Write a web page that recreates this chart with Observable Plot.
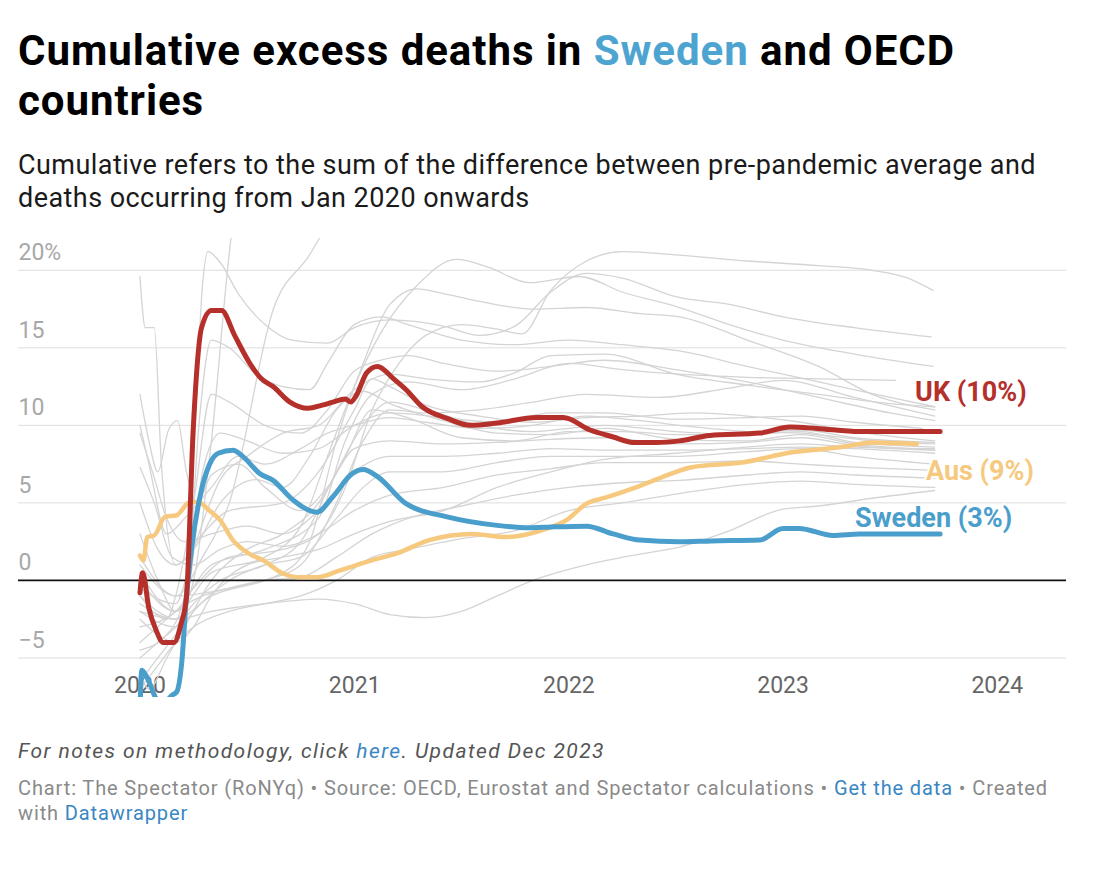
<!DOCTYPE html>
<html>
<head>
<meta charset="utf-8">
<script src="https://cdn.jsdelivr.net/npm/d3@7"></script>
<script src="https://cdn.jsdelivr.net/npm/@observablehq/plot@0.6"></script>
<style>
  html, body { margin: 0; padding: 0; background: #fff; }
  body { font-family: Roboto, "Noto Sans", sans-serif; width: 1096px; height: 872px; position: relative; overflow: hidden; }
  .txt { position: absolute; left: 18px; margin: 0; white-space: nowrap; }
  .title { top: 25.6px; font-size: 42px; line-height: 50px; font-weight: 700; color: #000; }
  .title .sw { color: #4ea4d0; }
  .subtitle { top: 149.2px; font-size: 27px; line-height: 33px; color: #1a1a1a; }
  #chart { position: absolute; left: 0; top: 236px; }
  .notes { top: 737.1px; font-size: 21px; line-height: 28px; font-style: italic; color: #555; }
  .notes a, .credits a { color: #3a86c2; text-decoration: none; }
  .credits { top: 775.7px; font-size: 20px; line-height: 25px; color: #8a8a8a; }
</style>
</head>
<body>
<div class="txt title" id="title"><span class="l1">Cumulative excess deaths in <span class="sw">Sweden</span> and OECD</span><br>countries</div>
<div class="txt subtitle" id="subtitle"><span class="l1">Cumulative refers to the sum of the difference between pre-pandemic average and</span><br>deaths occurring from Jan 2020 onwards</div>
<div id="chart"></div>
<div class="txt notes" id="notes"><span class="l1">For notes on methodology, click <a>here</a>. Updated Dec 2023</span></div>
<div class="txt credits" id="credits"><span class="l1">Chart: The Spectator (RoNYq) • Source: OECD, Eurostat and Spectator calculations • <a>Get the data</a> • Created</span><br>with <a>Datawrapper</a></div>
<script>
// ---------- DATA (months since 1 Jan 2020, cumulative excess deaths %) ----------
const ukSeries = [[0,-0.8],[0.15,0.5],[0.5,-1.8],[0.9,-3.2],[1.3,-4.0],[1.9,-4.0],[2.3,-2.8],[2.6,-1.1],[2.98,9.7],[3.45,16.3],[4.0,17.4],[4.57,17.4],[5.3,15.8],[6.15,14.0],[6.8,13.0],[7.45,12.5],[8.4,11.5],[9.4,11.1],[10.2,11.3],[10.8,11.5],[11.5,11.7],[11.8,11.5],[12.1,11.9],[12.7,13.4],[13.3,13.8],[14.2,13.0],[14.9,12.3],[15.8,11.2],[17.2,10.45],[18.5,10.0],[20,10.15],[22.2,10.5],[23.7,10.5],[25.2,9.7],[26.5,9.25],[27.6,8.9],[28.9,8.9],[30.2,9.0],[31.9,9.35],[34.7,9.5],[36.4,9.9],[37.9,9.8],[40.3,9.6],[42.5,9.6],[44.8,9.6]];
const swedenSeries = [[0,-8.5],[0.1,-5.8],[0.37,-6.2],[0.6,-6.8],[0.9,-7.6],[1.3,-7.9],[1.8,-7.4],[2.05,-7.2],[2.33,-5.4],[2.6,-1.1],[2.9,2.15],[3.36,5.4],[3.9,7.5],[4.38,8.2],[5.2,8.4],[5.8,7.95],[6.7,6.9],[7.45,6.45],[8.56,5.2],[9.9,4.4],[10.8,5.4],[11.9,6.9],[12.5,7.15],[13.3,6.7],[14.9,4.95],[17.2,4.1],[20,3.55],[21.8,3.4],[23,3.45],[25,3.5],[26.5,3.0],[28,2.6],[30.2,2.5],[32,2.55],[34.7,2.6],[36,3.35],[36.9,3.35],[38.8,2.9],[40.3,3.0],[44.8,3.0]];
const ausSeries = [[0,1.6],[0.2,1.3],[0.4,2.8],[0.8,2.9],[1.4,4.1],[2.05,4.2],[2.8,5.05],[3.25,5.05],[3.9,4.5],[4.5,3.87],[5.2,2.6],[6.15,1.7],[6.9,1.3],[8.0,0.45],[8.95,0.2],[9.9,0.2],[11.2,0.65],[12.7,1.2],[14.5,1.8],[16.2,2.6],[18.6,3.0],[20.5,2.8],[22.4,3.2],[23.9,3.9],[25,4.95],[26.1,5.35],[28,6.1],[29.1,6.6],[30.9,7.3],[33.7,7.6],[36.5,8.26],[39.3,8.6],[41,8.9],[43.5,8.8]];

const oecd01 = [[0,1.5],[2,-1],[3.5,1.5],[5,5],[7.5,17.6],[9.5,21],[11,24],[14,30],[20,34],[30,34],[44.5,33]];
const oecd02 = [[0,-2],[2,-2.5],[3,0],[4,9],[5.2,23],[7,30],[20,40],[44.5,40]];
const oecd03 = [[0,-4.5],[1.5,-3.5],[2.5,-1],[3,8],[3.5,19],[3.8,21.2],[4.5,20.5],[5.5,18.5],[7,16.5],[8.5,15.5],[10.5,15.3],[12,16.3],[14,16.8],[17,16.4],[19,15.8],[21,16.4],[23,18.6],[25,19.8],[27,19.5],[30,18.3],[33,17.8],[36,17],[40,16.3],[44.3,15.7]];
const oecd04 = [[0,0.5],[2,-2],[4,0.5],[7,1.5],[9,3.5],[10.5,8],[12,12.5],[13.5,16],[15.5,19],[17.7,20.7],[19.5,20.2],[21.8,19.2],[24.6,19.6],[27,18.6],[30.2,17.6],[33,16.5],[36,15.5],[40,14.6],[44.4,13.8]];
const oecd05 = [[0,3],[1,0],[2,-2],[3,-0.5],[5,1.5],[8,2],[10,3],[11.5,6],[13,11],[14.5,14],[16,15.8],[18,16.5],[20,16.2],[21.4,15.9],[23,18.7],[25,20.6],[27,21.2],[30,21],[34,20.6],[38,20.3],[41,20],[43,19.5],[44.4,18.7]];
const oecd06 = [[0,-2],[2,-3],[2.7,0],[3.3,10],[4,15.5],[5,15],[6.5,13.3],[8,12.5],[9.5,12.3],[10.5,14],[12,16.5],[13.5,17],[15,16.5],[18,15.5],[21,15.2],[24,15.5],[27,15.2],[30.2,14.8],[34,13.8],[38,12.8],[42,11.8],[44.5,11.2]];
const oecd07 = [[0,1],[2,-1],[5,-0.5],[8,0.5],[9.5,2.5],[11,9],[12.5,14],[14,17.8],[15.5,18.8],[17,18.5],[19,18],[22,17.5],[25,17.6],[28,17.2],[30.2,17],[34,15.5],[38,13.8],[41,12],[44.5,11]];
const oecd08 = [[0,-3],[2,-2],[4,1],[7,2],[10,4],[11.5,9],[13,12],[15,12.8],[18,12.3],[21,13],[24,14],[27,13.6],[30.2,13.3],[34,13.1],[38,13],[42.3,12.9]];
const oecd09 = [[0,-1.5],[2,-2.5],[4,-1],[7,0],[9,1],[11,5],[12.5,9],[14,11],[16,10.8],[19,11],[22,11.5],[25,12],[29,11.8],[33,12.4],[36,12.9],[40,11.8],[44.5,10.6]];
const oecd10 = [[0,5],[1,2],[2,1],[3.5,3],[5,4.5],[8,5],[10,7],[12,11],[13,13],[14,12.5],[16,11.3],[19,10.6],[22,10.2],[25,10.5],[28,10.6],[31,10.8],[34,10.6],[37,10.2],[40,9.6],[44.5,9.0]];
const oecd11 = [[0,10],[0.5,7.5],[1.5,3],[2.5,4],[4,6],[5.5,8],[7,7.5],[9,8.5],[10.5,9.5],[12,10],[14,10.5],[16,10.2],[19,9.8],[22,10],[25,10.6],[28,10.3],[31,9.9],[34,9.6],[37,9.5],[41,9.0],[44.5,8.8]];
const oecd12 = [[0,-5],[1,-4],[2,-3],[3,-1.5],[4.5,0],[7,1],[9,2.5],[11,7],[12.5,10],[14,11.5],[16,11],[19,10],[22,9.6],[26,10],[30,9.6],[34,9.4],[37,9.6],[40,8.9],[44.5,8.6]];
const oecd13 = [[0,19.6],[0.3,16.3],[0.8,16.3],[1.2,7.5],[2,1],[3,2],[4.5,5],[6.5,6.5],[8,6],[9.5,8],[11,11],[12.5,12.2],[14,11.4],[17,10.3],[20,9.5],[23,9.4],[26,9.8],[30,9.1],[34,9],[37,9.4],[40,8.8],[44.5,8.4]];
const oecd14 = [[0,12],[0.5,9],[1,7],[1.6,9.7],[2.1,10.3],[2.6,7],[3.2,5],[4,6.8],[5.5,7.5],[7,6],[9,4.5],[10.5,6],[12,8.5],[14,9],[17,8.8],[20,8.9],[23,9.1],[26,9.2],[30,8.8],[34,8.9],[37,9.2],[40,8.7],[44.5,8.4]];
const oecd15 = [[0,9.5],[0.7,7],[1.5,4],[2.5,2.5],[4,3],[6,3.5],[8,3],[10,4.5],[12,7],[14,8],[17,8],[20,8.2],[23,8.5],[26,8.4],[30,8.4],[34,8.5],[37,8.6],[40,8.5],[44.5,8.2]];
const oecd16 = [[0,-6.5],[1,-5],[2,-3.5],[3,-2],[5,0],[7,1],[9,1.5],[11,4],[12.5,6],[14,7],[17,7],[20,7.6],[23,8],[26,8],[30,8],[34,8.3],[37,8.5],[40,8],[44.5,7.5]];
const oecd17 = [[0,7.3],[0.8,5],[1.8,1.5],[3,1],[4.5,2],[6,2.5],[8,2.2],[10,3],[12,4.5],[14,5.5],[17,6],[20,6.8],[23,7.2],[26,7.6],[30,7.6],[34,7.7],[37,7.5],[40,7.3],[44.5,7.1]];
const oecd18 = [[0,-4],[1,-3],[2,-2],[3.5,-1],[5,-0.5],[7,0],[9,0.2],[11,1.5],[13,3],[15,4],[18,4.8],[21,5.5],[24,6],[27,6.3],[30.2,6.45],[34,6.8],[37,7],[40,6.8],[44.5,6.6]];
const oecd19 = [[0,-7],[1,-5.5],[2,-4],[3,-3],[5,-2],[7,-1.5],[9,-1],[11,0],[13,1.5],[15,2],[18,2.7],[21,3.2],[24,4.5],[27,5],[30.2,5.6],[34,6.2],[37,6.4],[40,6.2],[44.5,6.0]];
const oecd20 = [[0,-1],[1,-2],[2,-2.5],[4,-2],[7,-1.5],[10,-1.2],[12,-1.5],[14,-2.2],[16,-2.4],[18,-2],[20,-1],[22,0],[25,1],[28,1.7],[30.2,2.15],[33,3.2],[36,4.6],[38,4.8],[41,5.3],[44.5,5.8]];
const oecd21 = [[0,-6],[0.5,-7],[1.5,-5],[2.5,-3],[4,0],[6,2],[8,3],[10,5],[11.5,8],[13,11],[15,10.5],[18,9.2],[21,9],[24,9.6],[27,9.6],[30.2,9.4],[34,9.5],[37,9.7],[40,9.2],[44.5,8.9]];
const oecd22 = [[0,-2.5],[1,-3.5],[2,-4],[3,-3],[4,-1],[6,1],[8,1.5],[10,2],[12,3],[14,3.8],[17,4.5],[20,6],[23,7],[26,7.8],[30,8.2],[34,8.6],[37,8.8],[40,8.6],[44.5,8.5]];
const oecd23 = [[0,-1],[1.5,-2.5],[2,-1],[3,5],[4,12],[5,11.5],[7,10],[9,9.5],[10.5,11],[12,13.5],[13.5,14.2],[15,14.5],[17,14],[20,13.5],[23,13.8],[26,14.2],[30,13.6],[34,12.8],[38,11.8],[42,10.8],[44.5,10.3]];
const oecd24 = [[0,0],[2,-2],[2.8,0],[3.5,7],[4.5,9.5],[6,9],[8,8.2],[10,8.5],[12,10],[14,10.8],[17,10.5],[20,10.2],[23,10.8],[26,10.8],[30,10.4],[34,10.5],[37,10.6],[40,10.2],[43.8,9.8]];
const oecd25 = [[0,-0.5],[2,-1.5],[3,2],[4.5,6.5],[6,8],[8,9.5],[10,10],[12,12.3],[14,13.3],[16,13],[19,12.8],[21,13.4],[23,14.5],[26,14.6],[30,13.3],[34,12.6],[38,12],[42,11.4],[44.5,11.2]];
const oecdSeries = [oecd01,oecd02,oecd03,oecd04,oecd05,oecd06,oecd07,oecd08,oecd09,oecd10,oecd11,oecd12,oecd13,oecd14,oecd15,oecd16,oecd17,oecd18,oecd19,oecd20,oecd21,oecd22,oecd23,oecd24,oecd25];

const yTicks = [-5, 0, 5, 10, 15, 20];
const yTickLabels = ["\u22125", "0", "5", "10", "15", "20%"];
const xTickYears = [2020, 2021, 2022, 2023, 2024];
const highlightLabels = ["UK (10%)", "Aus (9%)", "Sweden (3%)"];

// ---------- text fitting (match the reference's line widths) ----------
function fitLine(id, target) {
  const el = document.getElementById(id);
  const span = el.querySelector(".l1");
  el.style.letterSpacing = "0px";
  const w = span.getBoundingClientRect().width;
  const n = span.textContent.length;
  el.style.letterSpacing = ((target - w) / n) + "px";
}
fitLine("title", 937);
fitLine("subtitle", 1018);
fitLine("notes", 587);
fitLine("credits", 1030);

// ---------- helpers ----------
const T0 = Date.UTC(2020, 0, 1);
const DAY = 864e5;
const toDate = m => new Date(T0 + m * 30.4375 * DAY);
const rows = (arr, id) => arr.map(([m, v]) => ({date: toDate(m), value: v, id}));

const greyRows = oecdSeries.flatMap((s, i) => rows(s, "c" + i));
const ukRows = rows(ukSeries, "UK");
const ausRows = rows(ausSeries, "Aus");
const swRows = rows(swedenSeries, "Sweden");
const xTicks = xTickYears.map(y => new Date(Date.UTC(y, 0, 1)));

const RED = "#b5302a", BLUE = "#4a9ecc", YELLOW = "#f6c97f";
const labelStyle = {fontWeight: 700, fontSize: 27, textAnchor: "start", stroke: "white", strokeWidth: 4};

const chart = Plot.plot({
  width: 1096,
  height: 470,
  marginLeft: 18,
  marginRight: 30,
  marginTop: 2,
  marginBottom: 9,
  x: {type: "utc", domain: [new Date(Date.UTC(2019, 5, 8)), new Date(Date.UTC(2024, 3, 28))], axis: null},
  y: {domain: [-7.55, 22.05], axis: null},
  style: {fontFamily: "Roboto, sans-serif", background: "white", overflow: "visible"},
  marks: [
    Plot.ruleY(yTicks.filter(d => d !== 0), {stroke: "#dedede", strokeWidth: 1}),
    Plot.text(xTicks, {x: d => d, frameAnchor: "bottom", lineAnchor: "bottom", dy: -5, text: d => String(d.getUTCFullYear()), fill: "#666", fontSize: 23}),
    Plot.text(yTicks, {y: d => d, frameAnchor: "left", textAnchor: "start", lineAnchor: "bottom", dy: -10, text: (d, i) => yTickLabels[i], fill: "#a8a8a8", fontSize: 23}),
    Plot.line(greyRows, {x: "date", y: "value", z: "id", stroke: "#d4d4d4", strokeWidth: 1.3, curve: "monotone-x", clip: true}),
    Plot.ruleY([0], {stroke: "#111", strokeWidth: 1.6}),
    Plot.line(ausRows, {x: "date", y: "value", stroke: YELLOW, strokeWidth: 4.5, curve: "monotone-x", clip: true, strokeLinecap: "round", strokeLinejoin: "round"}),
    Plot.line(swRows, {x: "date", y: "value", stroke: BLUE, strokeWidth: 5, curve: "monotone-x", clip: true, strokeLinecap: "round", strokeLinejoin: "round"}),
    Plot.line(ukRows, {x: "date", y: "value", stroke: RED, strokeWidth: 5, curve: "monotone-x", clip: true, strokeLinecap: "round", strokeLinejoin: "round"}),
    Plot.text(ukRows, Plot.selectLast({x: "date", y: "value", text: () => highlightLabels[0], fill: RED, dx: -25, dy: -39, ...labelStyle})),
    Plot.text(ausRows, Plot.selectLast({x: "date", y: "value", text: () => highlightLabels[1], fill: YELLOW, dx: 9, dy: 27, ...labelStyle})),
    Plot.text(swRows, Plot.selectLast({x: "date", y: "value", text: () => highlightLabels[2], fill: BLUE, dx: -85, dy: -16, ...labelStyle}))
  ]
});
document.getElementById("chart").appendChild(chart);
</script>
</body>
</html>
